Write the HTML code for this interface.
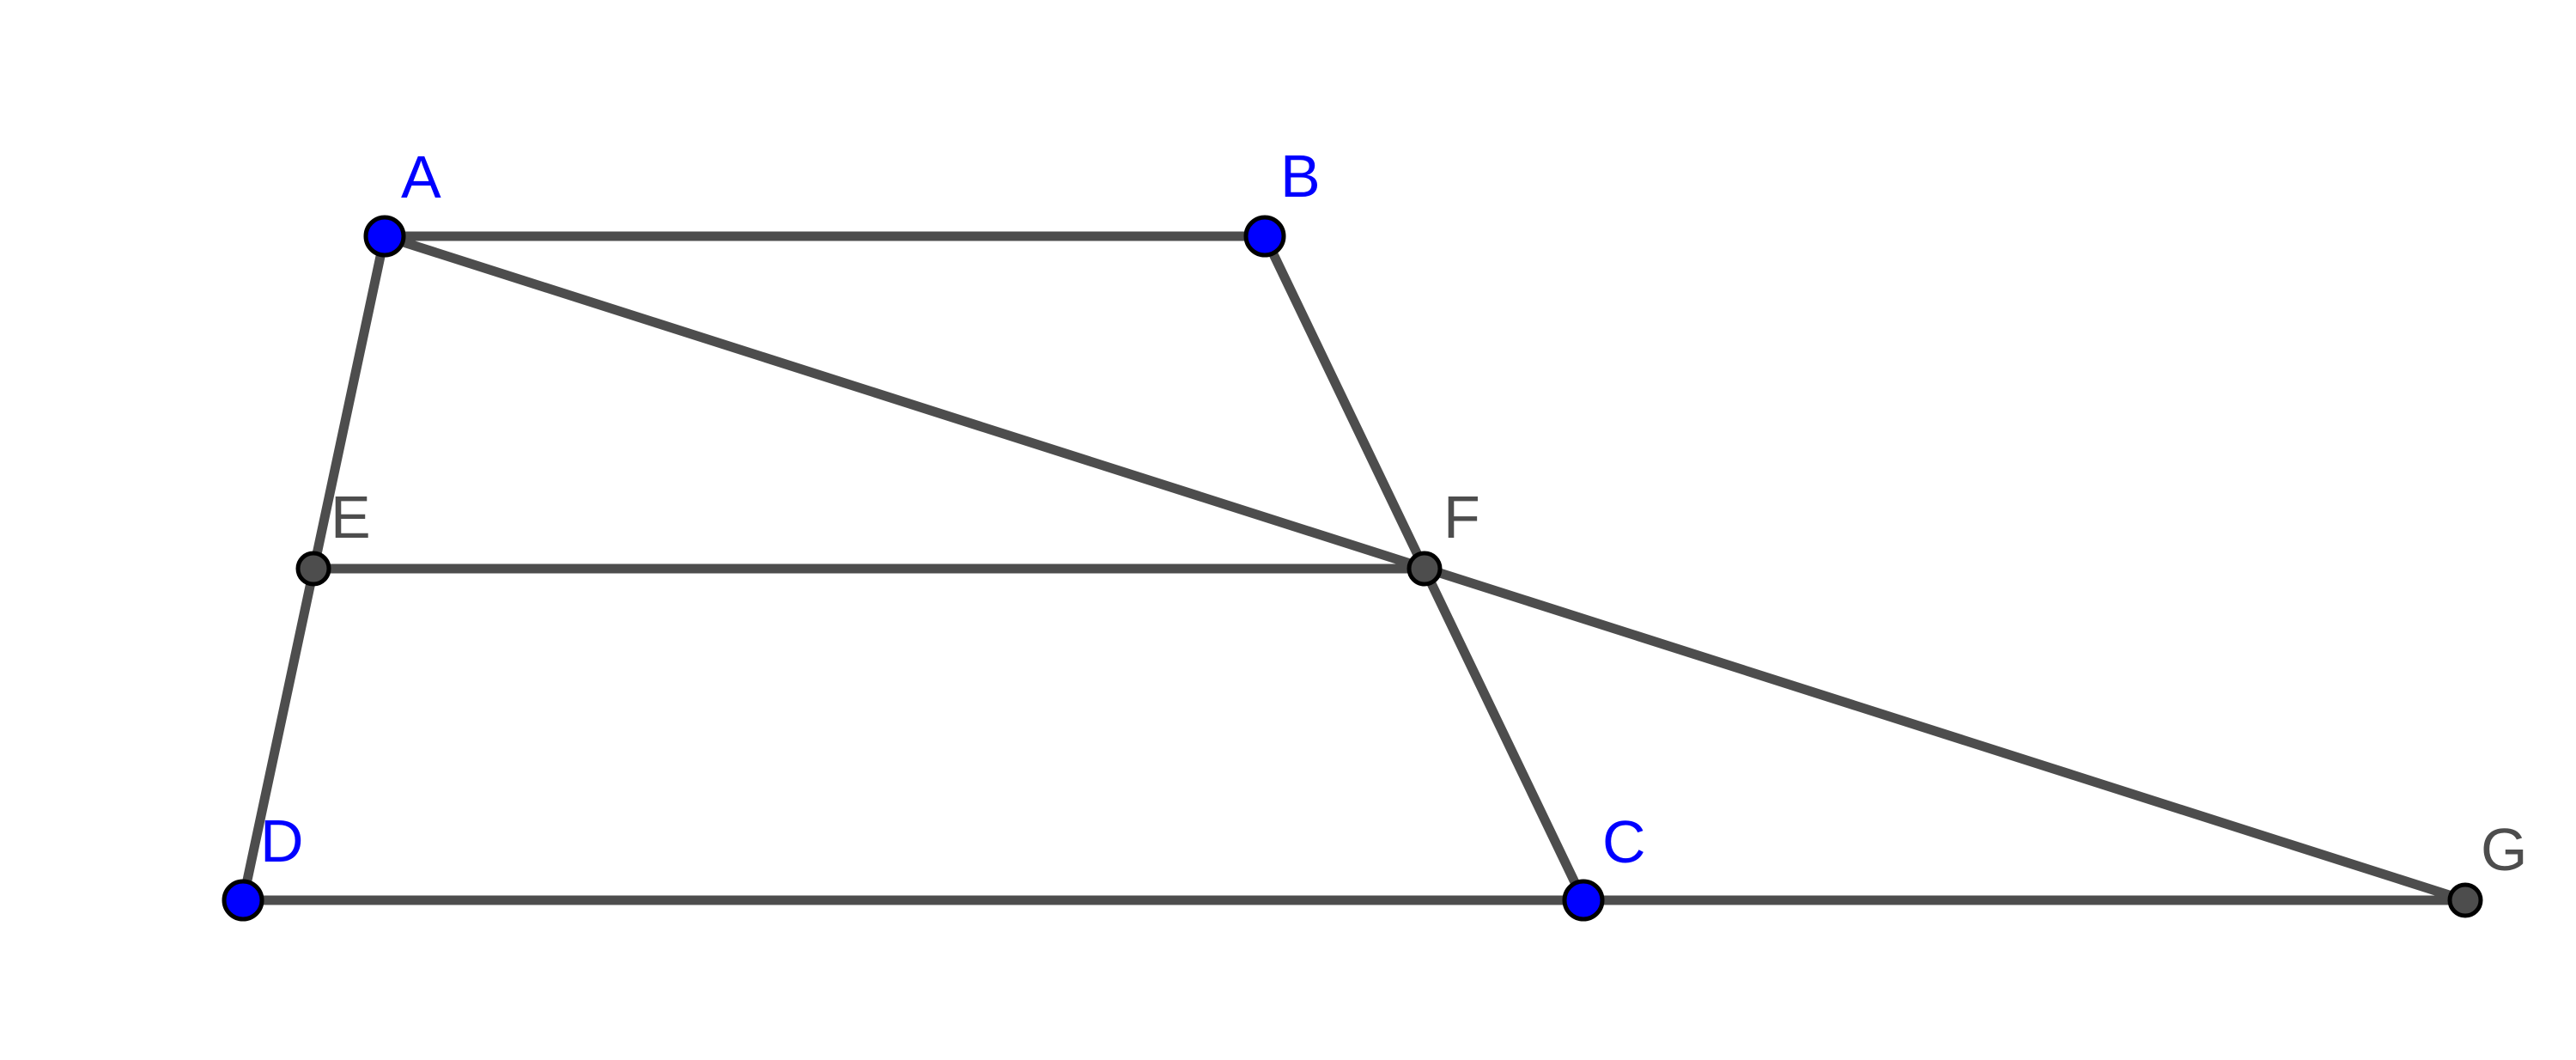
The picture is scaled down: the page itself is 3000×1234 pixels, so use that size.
<!DOCTYPE html>
<html><head><style>html,body{margin:0;padding:0;background:#fff}svg{display:block}</style></head>
<body>
<svg width="3000" height="1234" viewBox="0 0 3000 1234" xmlns="http://www.w3.org/2000/svg">
<g stroke="#4d4d4d" stroke-width="11" stroke-linecap="round" fill="none">
<line x1="448" y1="275" x2="1473" y2="275"/>
<line x1="448" y1="275" x2="283" y2="1048"/>
<line x1="1473" y1="275" x2="1844" y2="1048"/>
<line x1="283" y1="1048" x2="2871" y2="1048"/>
<line x1="448" y1="275" x2="2871" y2="1048"/>
<line x1="365" y1="662" x2="1659" y2="662"/>
</g>
<g stroke="#000" stroke-width="5">
<circle cx="448" cy="275" r="22" fill="#0000ff"/>
<circle cx="1473" cy="275" r="22" fill="#0000ff"/>
<circle cx="283" cy="1048" r="22" fill="#0000ff"/>
<circle cx="1844" cy="1048" r="22" fill="#0000ff"/>
<circle cx="365" cy="662" r="18" fill="#4d4d4d"/>
<circle cx="1659" cy="662" r="18" fill="#4d4d4d"/>
<circle cx="2871" cy="1048" r="18" fill="#4d4d4d"/>
</g>
<g font-family="Liberation Sans, sans-serif" font-size="70">
<text x="467" y="230" fill="#0000ff">A</text>
<text x="1491" y="229" fill="#0000ff">B</text>
<text x="303" y="1003" fill="#0000ff">D</text>
<text x="1866" y="1004" fill="#0000ff">C</text>
<text x="385" y="626" fill="#4d4d4d">E</text>
<text x="1681" y="626" fill="#4d4d4d">F</text>
<text x="2889" y="1013" fill="#4d4d4d">G</text>
</g>
</svg>
</body></html>
